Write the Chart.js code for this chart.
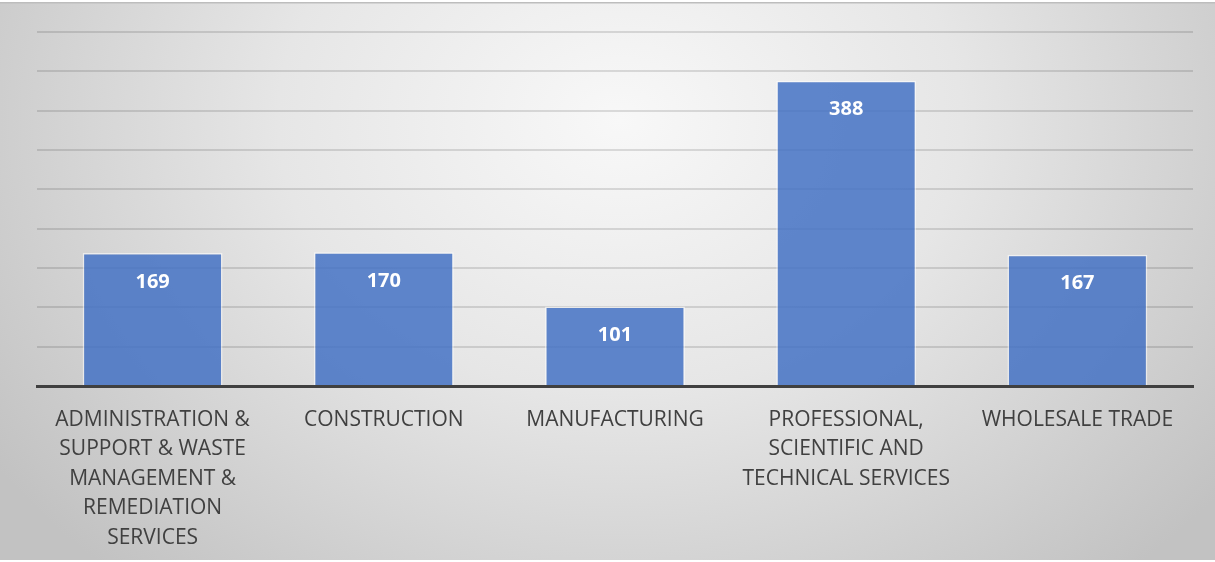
<!DOCTYPE html>
<html>
<head>
<meta charset="utf-8">
<script src="https://cdn.jsdelivr.net/npm/chart.js@4"></script>
<style>
  html, body { margin: 0; padding: 0; background: #fff; }
  #wrap { width: 1215px; height: 562px; }
</style>
</head>
<body>
<div id="wrap"><canvas id="industryChart" width="1215" height="562"></canvas></div>
<script>
// industry categories, one array entry per wrapped line
const industries = [
    ['ADMINISTRATION &', 'SUPPORT & WASTE', 'MANAGEMENT &', 'REMEDIATION', 'SERVICES'],
    ['CONSTRUCTION'],
    ['MANUFACTURING'],
    ['PROFESSIONAL,', 'SCIENTIFIC AND', 'TECHNICAL SERVICES'],
    ['WHOLESALE TRADE']
];
const counts = [169, 170, 101, 388, 167];
const axisMax = 450;
const axisStep = 50;

// soft grey radial backdrop behind everything
const backdrop = {
    id: 'backdrop',
    beforeDraw(chart) {
        const ctx = chart.ctx;
        const w = chart.width, h = chart.height;
        ctx.save();
        ctx.fillStyle = '#ffffff';
        ctx.fillRect(0, 0, w, h);
        ctx.translate(620, 120);
        ctx.scale(1, 0.8);
        const g = ctx.createRadialGradient(0, 0, 0, 0, 0, 760);
        g.addColorStop(0, '#f8f8f8');
        g.addColorStop(0.45, '#e6e6e6');
        g.addColorStop(1, '#c2c2c2');
        ctx.fillStyle = g;
        ctx.fillRect(-620, 3 / 0.8 - 120 / 0.8, w, (h - 5) / 0.8);
        ctx.restore();
        ctx.save();
        ctx.fillStyle = '#bdbdbd';
        ctx.fillRect(0, 2, w, 1.5);
        ctx.restore();
    }
};

// value printed inside the top of each bar
const barValues = {
    id: 'barValues',
    afterDatasetsDraw(chart) {
        const ctx = chart.ctx;
        const meta = chart.getDatasetMeta(0);
        ctx.save();
        ctx.fillStyle = '#ffffff';
        ctx.font = 'bold 20px "Open Sans"';
        ctx.textAlign = 'center';
        ctx.textBaseline = 'middle';
        meta.data.forEach((bar, i) => {
            ctx.fillText(String(counts[i]), bar.x, bar.y + 29);
        });
        ctx.restore();
    }
};

new Chart(document.getElementById('industryChart'), {
    type: 'bar',
    data: {
        labels: industries,
        datasets: [{
            data: counts,
            backgroundColor: 'rgba(68, 114, 196, 0.85)',
            borderColor: 'rgba(255, 255, 255, 0.55)',
            borderWidth: 1.5,
            categoryPercentage: 1,
            barPercentage: 0.605
        }]
    },
    options: {
        responsive: false,
        devicePixelRatio: 1,
        animation: false,
        layout: { padding: { left: 37, right: 22, top: 32, bottom: 0 } },
        plugins: {
            legend: { display: false },
            tooltip: { enabled: false }
        },
        scales: {
            x: {
                grid: { display: false },
                border: { display: true, color: '#404040', width: 3 },
                ticks: {
                    color: '#404040',
                    font: { family: '"Open Sans"', size: 21, lineHeight: 1.405 },
                    maxRotation: 0,
                    autoSkip: false,
                    padding: 11
                },
                afterFit(scale) { scale.height = 176; }
            },
            y: {
                min: 0,
                max: axisMax,
                ticks: { display: false, stepSize: axisStep },
                grid: { color: 'rgba(0, 0, 0, 0.12)', lineWidth: 2, drawTicks: false },
                border: { display: false }
            }
        }
    },
    plugins: [backdrop, barValues]
});
</script>
</body>
</html>
